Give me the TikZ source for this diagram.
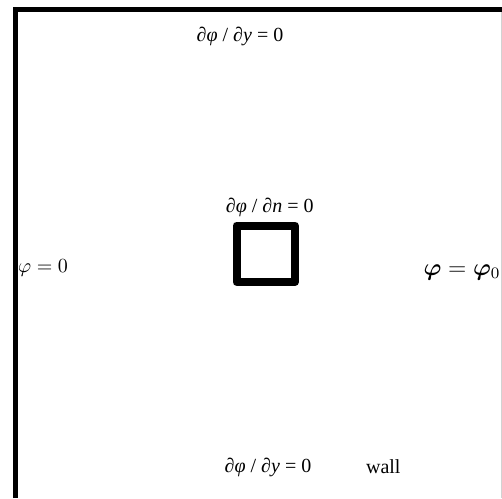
\documentclass[tikz,border=0pt]{standalone}
\usepackage{amsmath,bm}
\usepackage{fontspec}
\setmainfont{Liberation Serif}
\usetikzlibrary{positioning}

\begin{document}
\begin{tikzpicture}[
  x=0.5pt, y=-0.5pt,
  frame/.style={line width=2.5pt, black},
  obstacle/.style={draw, line width=4pt, line join=round, minimum width=29.25pt, minimum height=28.25pt, inner sep=0pt},
  bc/.style={font=\fontsize{10}{12}\selectfont, inner sep=0pt}
]
\useasboundingbox (0,0) rectangle (502,498);

% domain boundary
\draw[frame] (15,498) -- (15,9.5) -- (502,9.5);
\draw[gray!35, line width=0.5pt] (501,12) -- (501,498);

% obstacle
\node[obstacle] (sq) at (265.75,253.75) {};
\node[bc, above=2pt of sq, xshift=2pt] (cn) {\textit{∂φ} / \textit{∂n} = 0};

% boundary conditions
\node[bc] (ctop) at (240,36) {\textit{∂φ} / \textit{∂y} = 0};
\node[bc] (cleft) at (43,268) {$\varphi = 0$};
\node[bc, font=\fontsize{11.5}{13}\selectfont] (cright) at (462,272) {$\bm{\varphi} = \bm{\varphi}_0$};
\node[bc] (cbot) at (268,467) {\textit{∂φ} / \textit{∂y} = 0};
\node[bc, right=27pt of cbot] (wall) {wall};
\end{tikzpicture}
\end{document}
